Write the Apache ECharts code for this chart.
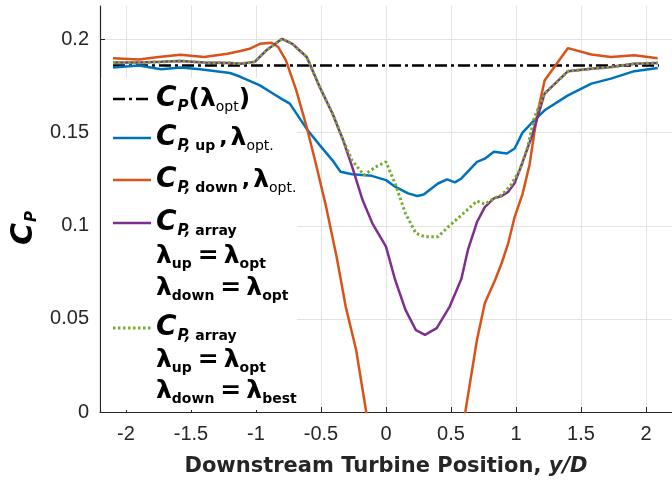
<!DOCTYPE html>
<html>
<head>
<meta charset="utf-8">
<script src="https://cdn.jsdelivr.net/npm/echarts@6/dist/echarts.min.js"></script>
<style>
  html, body { margin: 0; padding: 0; background: #fff; }
  #chart { width: 672px; height: 486px; }
</style>
</head>
<body>
<div id="chart"></div>
<script>
// tick values
const xTicks = [-2, -1.5, -1, -0.5, 0, 0.5, 1, 1.5, 2];
const yTicks = [0, 0.05, 0.1, 0.15, 0.2];

// C_P(lambda_opt) reference level
const xOpt = [-2.1, 2.1];
const yOpt = [0.186, 0.186];

// upstream turbine, lambda_opt
const xUp = [-2.1, -1.9, -1.73, -1.58, -1.43, -1.2, -1.12, -0.97, -0.87, -0.8, -0.74, -0.61, -0.51, -0.41, -0.35, -0.26, -0.11, 0, 0.07, 0.17, 0.24, 0.29, 0.4, 0.47, 0.53, 0.58, 0.7, 0.76, 0.83, 0.93, 0.99, 1.05, 1.14, 1.22, 1.4, 1.58, 1.73, 1.91, 2.09];
const yUp = [0.185, 0.186, 0.184, 0.185, 0.184, 0.182, 0.18, 0.1754, 0.171, 0.168, 0.1656, 0.152, 0.1433, 0.135, 0.129, 0.1277, 0.1268, 0.1245, 0.121, 0.1174, 0.116, 0.1168, 0.1227, 0.1249, 0.1233, 0.1254, 0.1343, 0.136, 0.1397, 0.1388, 0.1415, 0.15, 0.1566, 0.162, 0.17, 0.1763, 0.179, 0.183, 0.1847];

// downstream turbine, lambda_opt (dips below the axis in the middle)
const xDown = [-2.1, -1.9, -1.75, -1.58, -1.4, -1.22, -1.12, -1.05, -0.97, -0.88, -0.83, -0.77, -0.69, -0.61, -0.54, -0.46, -0.38, -0.31, -0.23, -0.155, -0.1, 0.55, 0.61, 0.7, 0.76, 0.84, 0.89, 0.94, 0.99, 1.05, 1.105, 1.14, 1.17, 1.22, 1.4, 1.58, 1.73, 1.91, 2.09];
const yDown = [0.19, 0.1893, 0.1906, 0.1918, 0.1906, 0.1924, 0.1938, 0.195, 0.1977, 0.1983, 0.196, 0.1888, 0.1727, 0.153, 0.1334, 0.11, 0.0834, 0.0566, 0.0334, 0.0012, -0.022, -0.026, 0, 0.0388, 0.0584, 0.071, 0.08, 0.0906, 0.1048, 0.117, 0.133, 0.1495, 0.162, 0.178, 0.1954, 0.192, 0.1906, 0.1915, 0.19];

// array, both at lambda_opt
const xArr = [-2.1, -1.9, -1.73, -1.58, -1.4, -1.2, -1.12, -1.01, -0.92, -0.8, -0.72, -0.61, -0.51, -0.41, -0.33, -0.26, -0.18, -0.105, 0, 0.07, 0.15, 0.23, 0.3, 0.39, 0.49, 0.58, 0.63, 0.7, 0.76, 0.83, 0.89, 0.94, 0.99, 1.05, 1.12, 1.22, 1.4, 1.58, 1.73, 1.91, 2.09];
const yArr = [0.1876, 0.1876, 0.188, 0.1885, 0.1876, 0.1874, 0.187, 0.188, 0.1942, 0.2004, 0.1977, 0.1906, 0.1745, 0.16, 0.146, 0.1316, 0.1138, 0.1013, 0.0888, 0.071, 0.0548, 0.044, 0.0414, 0.045, 0.0566, 0.0715, 0.087, 0.102, 0.11, 0.1147, 0.116, 0.1182, 0.123, 0.134, 0.1477, 0.171, 0.183, 0.1843, 0.1852, 0.187, 0.1874];

// array, downstream at lambda_best
const xBest = [-2.1, -1.9, -1.73, -1.58, -1.4, -1.2, -1.12, -1.01, -0.92, -0.8, -0.72, -0.61, -0.51, -0.41, -0.33, -0.26, -0.17, -0.08, 0, 0.07, 0.15, 0.23, 0.3, 0.4, 0.48, 0.58, 0.7, 0.76, 0.83, 0.89, 0.96, 1.03, 1.09, 1.14, 1.22, 1.4, 1.58, 1.73, 1.91, 2.09];
const yBest = [0.1876, 0.1876, 0.188, 0.1885, 0.1876, 0.1874, 0.187, 0.188, 0.1942, 0.2004, 0.1977, 0.1906, 0.1745, 0.16, 0.146, 0.135, 0.1272, 0.1316, 0.1343, 0.1227, 0.1066, 0.096, 0.0941, 0.0941, 0.0995, 0.1057, 0.1133, 0.1116, 0.1147, 0.1165, 0.1218, 0.13, 0.1424, 0.158, 0.171, 0.183, 0.1843, 0.1852, 0.187, 0.1874];

const BLUE = '#0072BD', ORANGE = '#D95319', PURPLE = '#7E2F8E', GREEN = '#77AC30';
const INK = '#262626';
const FONT = 'Liberation Sans';
const MATH = 'DejaVu Sans';

const zip = (xs, ys) => xs.map((x, i) => [x, ys[i]]);

const chart = echarts.init(document.getElementById('chart'), null, { renderer: 'canvas' });

const rich = {
	c: { fontFamily: MATH, fontSize: 28, fontWeight: 'bold', fontStyle: 'italic', color: '#000' },
	sp: { fontFamily: MATH, fontSize: 15, fontWeight: 'bold', fontStyle: 'italic', color: '#000', padding: [16, 0, 0, 1] },
	sb: { fontFamily: MATH, fontSize: 14, fontWeight: 'bold', color: '#000', padding: [16, 0, 0, 0] },
	so: { fontFamily: MATH, fontSize: 14, color: '#000', padding: [16, 0, 0, 0] },
	l: { fontFamily: MATH, fontSize: 25, fontWeight: 'bold', color: '#000' },
	n: { fontFamily: MATH, fontSize: 25, fontWeight: 'bold', color: '#000' },
	cm: { fontFamily: MATH, fontSize: 22, fontWeight: 'bold', color: '#000', padding: [0, 3, 0, 4] },
	eq: { fontFamily: MATH, fontSize: 25, fontWeight: 'bold', color: '#000', padding: [0, 5, 0, 6] }
};

const legendRows = [
	{ y: 99, line: { stroke: '#000', lineDash: [12, 4, 3, 4], lineWidth: 2.5 }, text: '{c|C}{sp|P}{n|(}{l|λ}{so|opt}{n|)}' },
	{ y: 138, line: { stroke: BLUE, lineWidth: 2.5 }, text: '{c|C}{sp|P,}{sb| up}{cm|,}{l|λ}{so|opt.}' },
	{ y: 180, line: { stroke: ORANGE, lineWidth: 2.5 }, text: '{c|C}{sp|P,}{sb| down}{cm|,}{l|λ}{so|opt.}' },
	{ y: 223, line: { stroke: PURPLE, lineWidth: 2.5 }, text: '{c|C}{sp|P,}{sb| array}' },
	{ y: 256, text: '{l|λ}{sb|up}{eq|=}{l|λ}{sb|opt}' },
	{ y: 288, text: '{l|λ}{sb|down}{eq|=}{l|λ}{sb|opt}' },
	{ y: 328, line: { stroke: GREEN, lineDash: [2.5, 2.5], lineWidth: 3 }, text: '{c|C}{sp|P,}{sb| array}' },
	{ y: 360, text: '{l|λ}{sb|up}{eq|=}{l|λ}{sb|opt}' },
	{ y: 391, text: '{l|λ}{sb|down}{eq|=}{l|λ}{sb|best}' }
];

const legendEls = [
	{ type: 'rect', z: 1, shape: { x: 101, y: 78, width: 196, height: 332 }, style: { fill: '#fff' } }
];
for (const row of legendRows) {
	if (row.line) {
		legendEls.push({ type: 'line', z: 10, shape: { x1: 113, y1: row.y, x2: 151, y2: row.y }, style: row.line });
	}
	legendEls.push({
		type: 'text', z: 10, x: 156, y: row.y,
		style: { text: row.text, rich: rich, align: 'left', verticalAlign: 'middle' }
	});
}
// y axis title
legendEls.push({
	type: 'text', z: 10, x: 24, y: 228, rotation: Math.PI / 2,
	style: {
		text: '{c|C}{s|P}', align: 'center', verticalAlign: 'middle',
		rich: {
			c: { fontFamily: MATH, fontSize: 30, fontWeight: 'bold', fontStyle: 'italic', color: INK },
			s: { fontFamily: MATH, fontSize: 15, fontWeight: 'bold', fontStyle: 'italic', color: INK, padding: [16, 0, 0, 1] }
		}
	}
});

const option = {
	backgroundColor: '#fff',
	animation: false,
	grid: { left: 100, right: -3, top: 6, bottom: 74 },
	xAxis: {
		type: 'value',
		min: -2.2,
		max: 2.2,
		name: '{b|Downstream Turbine Position, }{i|y/D}',
		nameLocation: 'middle',
		nameGap: 44,
		nameTextStyle: {
			rich: {
				b: { fontFamily: MATH, fontSize: 21, fontWeight: 'bold', color: INK },
				i: { fontFamily: MATH, fontSize: 21, fontWeight: 'bold', fontStyle: 'italic', color: INK }
			}
		},
		axisLine: { onZero: false, lineStyle: { color: INK, width: 1.2 } },
		axisTick: { inside: true, length: 5, customValues: xTicks, lineStyle: { color: INK } },
		axisLabel: { customValues: xTicks, fontFamily: FONT, fontSize: 20, color: INK, margin: 12 },
		splitLine: { show: true, lineStyle: { color: '#e3e3e3', width: 1 } }
	},
	yAxis: {
		type: 'value',
		min: 0,
		max: 0.218,
		axisLine: { show: true, onZero: false, lineStyle: { color: INK, width: 1.2 } },
		axisTick: { show: true, inside: true, length: 5, customValues: yTicks, lineStyle: { color: INK } },
		axisLabel: { customValues: yTicks, fontFamily: FONT, fontSize: 20, color: INK, margin: 11 },
		splitLine: { show: true, lineStyle: { color: '#e3e3e3', width: 1 } }
	},
	graphic: { elements: legendEls },
	series: [
		{ type: 'line', name: 'CP opt', data: zip(xOpt, yOpt), symbol: 'none', lineStyle: { color: '#000', width: 2.5, type: [12, 4, 3, 4] } },
		{ type: 'line', name: 'CP up', data: zip(xUp, yUp), symbol: 'none', lineStyle: { color: BLUE, width: 2.5 } },
		{ type: 'line', name: 'CP down', data: zip(xDown, yDown), symbol: 'none', clip: true, lineStyle: { color: ORANGE, width: 2.5 } },
		{ type: 'line', name: 'CP array', data: zip(xArr, yArr), symbol: 'none', lineStyle: { color: PURPLE, width: 2.5 } },
		{ type: 'line', name: 'CP array best', data: zip(xBest, yBest), symbol: 'none', lineStyle: { color: GREEN, width: 3, type: [2.5, 2.5] } }
	]
};

chart.setOption(option);
</script>
</body>
</html>
